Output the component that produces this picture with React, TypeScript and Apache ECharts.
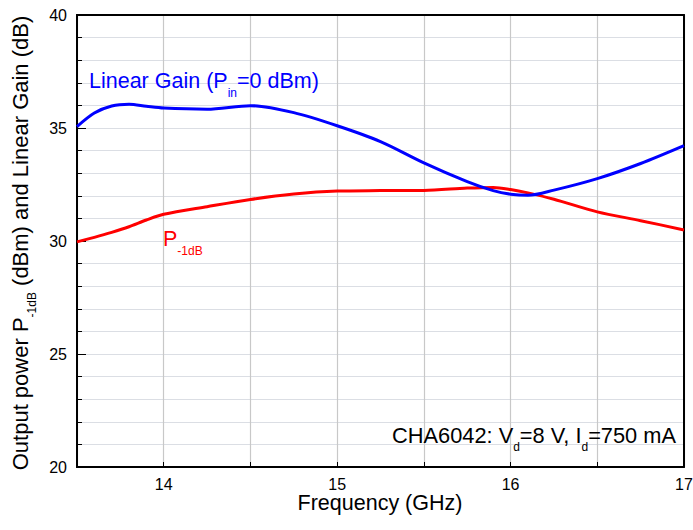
import React, { useEffect, useRef } from 'react';
import * as echarts from 'echarts';

// Frequency (GHz)
const frequency = [13.5, 13.6, 13.7, 13.8, 13.9, 14.0, 14.25, 14.5, 14.75, 15.0, 15.25, 15.5, 15.75, 15.9, 16.0, 16.1, 16.25, 16.5, 16.75, 17.0];
// Linear gain (dB), Pin = 0 dBm
const linearGain = [35.06, 35.66, 35.97, 36.05, 35.96, 35.88, 35.83, 35.99, 35.68, 35.1, 34.4, 33.46, 32.63, 32.23, 32.07, 32.02, 32.25, 32.76, 33.43, 34.22];
// Output power at 1 dB compression (dBm)
const p1dB = [29.96, 30.16, 30.38, 30.63, 30.93, 31.18, 31.52, 31.84, 32.08, 32.21, 32.23, 32.24, 32.34, 32.37, 32.28, 32.13, 31.85, 31.29, 30.9, 30.49];

const xTickLabels = [14, 15, 16, 17];
const yTickLabels = [20, 25, 30, 35, 40];

const FONT = '"Liberation Sans", Arial, Helvetica, sans-serif';

export default function App() {
  const ref = useRef<HTMLDivElement>(null);

  useEffect(() => {
    const chart = echarts.init(ref.current as HTMLDivElement, null, { renderer: 'svg' });

    const richMain = (size: number, color: string) => ({
      m: { fontSize: size, fontFamily: FONT, lineHeight: 22, verticalAlign: 'top', fill: color },
      s: { fontSize: 12, fontFamily: FONT, lineHeight: 12, padding: [17, 0, 0, 0], verticalAlign: 'top', fill: color },
    });

    const xMin = 13.5;
    const xMax = 17;
    const yMin = yTickLabels[0];
    const yMax = yTickLabels[yTickLabels.length - 1];

    chart.setOption({
      animation: false,
      backgroundColor: '#ffffff',
      grid: { left: 77, top: 15, width: 607, height: 452, outerBoundsMode: 'none', containLabel: false },
      xAxis: [
        {
          // vertical grid lines
          type: 'value',
          min: xMin,
          max: xMax,
          interval: 0.5,
          position: 'bottom',
          z: 0,
          axisLine: { show: false },
          axisTick: { show: false },
          axisLabel: { show: false },
          splitLine: { show: true, lineStyle: { color: ['#c8c8c8'], width: 1.2 } },
        },
        {
          // bottom axis line, ticks and labels
          type: 'value',
          min: xMin,
          max: xMax,
          interval: 0.5,
          position: 'bottom',
          z: 3,
          axisLine: { show: true, onZero: false, lineStyle: { color: '#000', width: 2 } },
          axisTick: { show: true, inside: true, length: 5 },
          axisLabel: {
            show: true,
            color: '#000',
            fontSize: 16,
            fontFamily: FONT,
            margin: 9,
            formatter: (v: number) => (xTickLabels.indexOf(v) >= 0 ? String(v) : ''),
          },
          splitLine: { show: false },
        },
        {
          // top frame
          type: 'value',
          min: xMin,
          max: xMax,
          interval: 0.5,
          position: 'top',
          z: 3,
          axisLine: { show: true, onZero: false, lineStyle: { color: '#000', width: 2 } },
          axisTick: { show: false },
          axisLabel: { show: false },
          splitLine: { show: false },
        },
      ],
      yAxis: [
        {
          // horizontal grid lines (every 1 dB) and minor ticks
          type: 'value',
          min: yMin,
          max: yMax,
          interval: 1,
          position: 'left',
          z: 0,
          axisLine: { show: true, onZero: false, lineStyle: { color: '#000', width: 2 } },
          axisTick: { show: true, inside: true, length: 5 },
          axisLabel: { show: false },
          splitLine: { show: true },
        },
        {
          // left axis labels and major ticks
          type: 'value',
          min: yMin,
          max: yMax,
          interval: 5,
          position: 'left',
          z: 3,
          axisLine: { show: true, onZero: false, lineStyle: { color: '#000', width: 2 } },
          axisTick: { show: true, inside: true, length: 9 },
          splitLine: { show: false },
          axisLabel: { show: true, color: '#000', fontSize: 16, fontFamily: FONT, margin: 10 },
        },
        {
          // right frame
          type: 'value',
          min: yMin,
          max: yMax,
          interval: 5,
          position: 'right',
          z: 3,
          axisLine: { show: true, onZero: false, lineStyle: { color: '#000', width: 2 } },
          axisTick: { show: false },
          axisLabel: { show: false },
          splitLine: { show: false },
        },
      ],
      series: [
        {
          name: 'Linear Gain',
          type: 'line',
          xAxisIndex: 0,
          yAxisIndex: 0,
          data: frequency.map((f, i) => [f, linearGain[i]]),
          smooth: 0.3,
          showSymbol: false,
          symbol: 'none',
          lineStyle: { color: '#0000ff', width: 3 },
          z: 5,
        },
        {
          name: 'P-1dB',
          type: 'line',
          xAxisIndex: 0,
          yAxisIndex: 0,
          data: frequency.map((f, i) => [f, p1dB[i]]),
          smooth: 0.3,
          showSymbol: false,
          symbol: 'none',
          lineStyle: { color: '#ff0000', width: 3 },
          z: 4,
        },
      ],
      graphic: [
        {
          type: 'text',
          x: 89,
          y: 70,
          z: 10,
          style: {
            text: '{m|Linear Gain (P}{s|in}{m|=0 dBm)}',
            rich: richMain(21.5, '#0000ff'),
            fill: '#0000ff',
            align: 'left',
            verticalAlign: 'top',
          },
        },
        {
          type: 'text',
          x: 163,
          y: 228,
          z: 10,
          style: {
            text: '{m|P}{s|-1dB}',
            rich: richMain(21.5, '#ff0000'),
            fill: '#ff0000',
            align: 'left',
            verticalAlign: 'top',
          },
        },
        {
          type: 'text',
          x: 676,
          y: 424,
          z: 10,
          style: {
            text: '{m|CHA6042: V}{s|d}{m|=8 V, I}{s|d}{m|=750 mA}',
            rich: richMain(21.8, '#000000'),
            fill: '#000',
            align: 'right',
            verticalAlign: 'top',
          },
        },
        {
          type: 'text',
          x: 9,
          y: 243,
          rotation: Math.PI / 2,
          z: 10,
          style: {
            text: '{m|Output power P}{s|-1dB}{m| (dBm) and Linear Gain (dB)}',
            rich: richMain(22, '#000000'),
            fill: '#000',
            align: 'center',
            verticalAlign: 'top',
          },
        },
        {
          type: 'text',
          x: 380,
          y: 503,
          z: 10,
          style: {
            text: 'Frequency (GHz)',
            font: `21.5px ${FONT}`,
            fill: '#000',
            align: 'center',
            verticalAlign: 'middle',
          },
        },
      ],
    });

    return () => {
      chart.dispose();
    };
  }, []);

  return <div ref={ref} style={{ width: 693, height: 530, position: 'absolute', left: 0, top: 0 }} />;
}
